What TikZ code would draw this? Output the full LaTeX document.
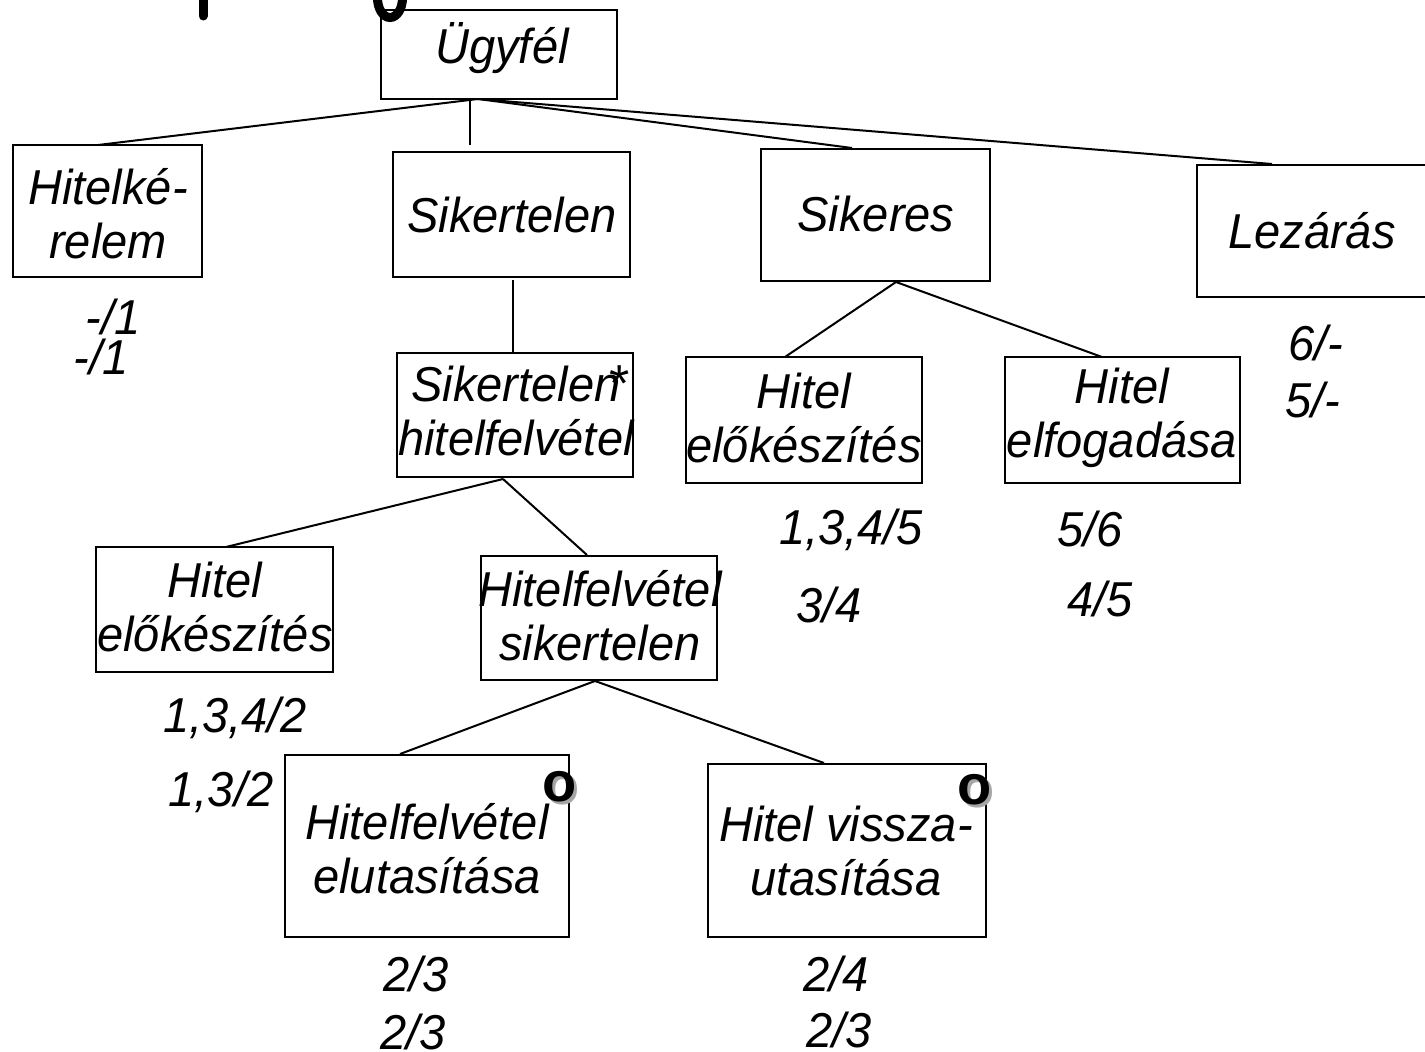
\documentclass[tikz,border=0pt]{standalone}
\usepackage{fontspec}
\setmainfont[FakeStretch=0.96]{Liberation Sans}
\newfontfamily\markfont{Liberation Sans}
\begin{document}
\begin{tikzpicture}[x=1pt,y=-1pt,
  box/.style={draw, line width=2.5pt, inner sep=0pt},
  txt/.style={font=\fontsize{49}{54}\selectfont\itshape, align=center, inner sep=0pt},
  lbl/.style={font=\fontsize{49}{54}\selectfont\itshape, inner sep=0pt},
  conn/.style={line width=2pt},
  omark/.style={font=\markfont\fontsize{56}{60}\selectfont\bfseries, inner sep=0pt},
  oshadow/.style={omark, text=black!35},
  frag/.style={line width=9pt, line cap=round}
]
\useasboundingbox (0,0) rectangle (1425,1052);
\clip (0,0) rectangle (1425,1052);

% cut-off fragments at the top
\draw[frag] (203,-12) -- (203,16);
\draw[line width=9pt] (390,-2) ellipse [x radius=12.5, y radius=19.5];

% boxes
\node[box, minimum width=236pt, minimum height=89pt]  (ugy) at (499,54.5) {};
\node[box, minimum width=189pt, minimum height=132pt] (hk)  at (107.5,211) {};
\node[box, minimum width=237pt, minimum height=125pt] (sik) at (511.5,214.5) {};
\node[box, minimum width=229pt, minimum height=132pt] (ske) at (875.5,215) {};
\node[box, minimum width=243pt, minimum height=132pt] (lez) at (1318.5,231) {};
\node[box, minimum width=236pt, minimum height=124pt] (shf) at (515,415) {};
\node[box, minimum width=236pt, minimum height=126pt] (he2) at (804,420) {};
\node[box, minimum width=235pt, minimum height=126pt] (hel) at (1122.5,420) {};
\node[box, minimum width=237pt, minimum height=125pt] (he1) at (214.5,609.5) {};
\node[box, minimum width=236pt, minimum height=124pt] (hfs) at (599,618) {};
\node[box, minimum width=284pt, minimum height=182pt] (hfe) at (427,846) {};
\node[box, minimum width=278pt, minimum height=173pt] (hvu) at (847,850.5) {};

% texts
\node[txt, anchor=base] (ugyt) at (502,63) {Ügyfél};
\node[txt] (hkt)  at (108,214) {Hitelké-\\relem};
\node[txt] (sikt) at (512,215) {Sikertelen};
\node[txt] (sket) at (876,214) {Sikeres};
\node[txt] (lezt) at (1312,231) {Lezárás};
\node[txt] (shft) at (516,411) {Sikertelen\\hitelfelvétel};
\node[txt] (he2t) at (804,418) {Hitel\\előkészítés};
\node[txt] (helt) at (1122,418) {Hitel\\elfogadása};
\node[txt] (he1t) at (215,607) {Hitel\\előkészítés};
\node[txt] (hfst) at (600,616) {Hitelfelvétel\\sikertelen};
\node[txt] (hfet) at (427,849) {Hitelfelvétel\\elutasítása};
\node[txt] (hvut) at (846,851) {Hitel vissza-\\utasítása};

% connector end points
\coordinate (ugyB) at (478,99);
\coordinate (ugyV) at (470,99);
\coordinate (hkT) at (98,145);
\coordinate (sikT) at (470,145);
\coordinate (skeT) at (852,148);
\coordinate (lezT) at (1272,164);
\coordinate (sikB) at (513,280);
\coordinate (shfT) at (513,353);
\coordinate (shfB) at (503,479);
\coordinate (he1T) at (226,547);
\coordinate (hfsT) at (587,555);
\coordinate (skeB) at (896,282);
\coordinate (he2T) at (785,357);
\coordinate (helT) at (1102,357);
\coordinate (hfsB) at (595,681);
\coordinate (hfeT) at (400,754);
\coordinate (hvuT) at (824,763);

% connectors
\draw[conn] (ugyB) -- (hkT);
\draw[conn] (ugyV) -- (sikT);
\draw[conn] (ugyB) -- (skeT);
\draw[conn] (ugyB) -- (lezT);
\draw[conn] (sikB) -- (shfT);
\draw[conn] (shfB) -- (he1T);
\draw[conn] (shfB) -- (hfsT);
\draw[conn] (skeB) -- (he2T);
\draw[conn] (skeB) -- (helT);
\draw[conn] (hfsB) -- (hfeT);
\draw[conn] (hfsB) -- (hvuT);

% labels
\node[lbl] (l1)  at (113,317) {-/1};
\node[lbl] (l2)  at (101,357) {-/1};
\node[lbl] (l3)  at (1316,343) {6/-};
\node[lbl] (l4)  at (1313,400) {5/-};
\node[lbl] (l5)  at (851,530) {1,3,4/5};
\node[lbl] (l6)  at (829,605) {3/4};
\node[lbl] (l7)  at (1090,529) {5/6};
\node[lbl] (l8)  at (1100,599) {4/5};
\node[lbl] (l9)  at (235,718) {1,3,4/2};
\node[lbl] (l10) at (221,792) {1,3/2};
\node[lbl] (l11) at (416,974) {2/3};
\node[lbl] (l12) at (413,1032) {2/3};
\node[lbl] (l13) at (836,974) {2/4};
\node[lbl] (l14) at (839,1030) {2/3};

% marks
\node[font=\markfont\fontsize{52}{56}\selectfont, inner sep=0pt] (ast) at (620,384) {*};
\node[oshadow] (o1s) at (563,790) {o};
\node[omark] (o1) at (560,787) {o};
\node[oshadow] (o2s) at (978,793) {o};
\node[omark] (o2) at (975,790) {o};
\end{tikzpicture}
\end{document}
